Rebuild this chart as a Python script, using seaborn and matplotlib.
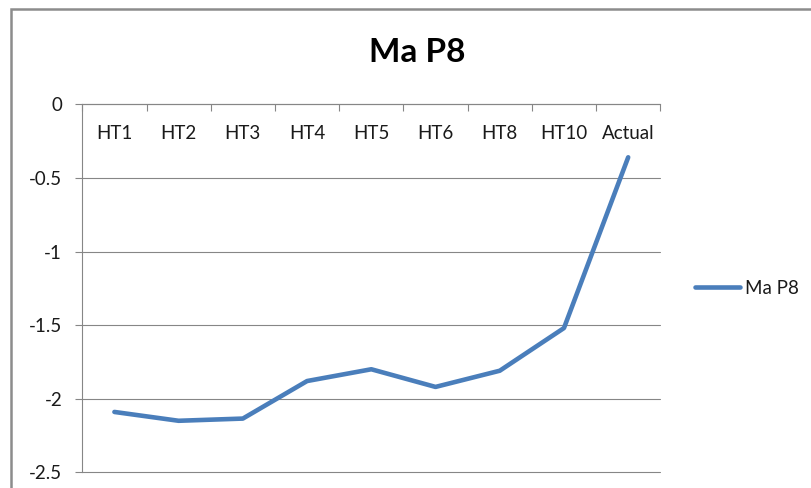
import matplotlib
matplotlib.use("Agg")
import matplotlib.pyplot as plt
import seaborn as sns
import pandas as pd
from matplotlib.patches import Rectangle
from matplotlib.ticker import FixedLocator

categories = ["HT1", "HT2", "HT3", "HT4", "HT5", "HT6", "HT8", "HT10", "Actual"]
values = [-2.09, -2.15, -2.135, -1.88, -1.80, -1.92, -1.81, -1.52, -0.36]
series_name = "Ma P8"
y_ticks = [0, -0.5, -1, -1.5, -2, -2.5]
y_tick_labels = ["0", "-0.5", "-1", "-1.5", "-2", "-2.5"]

sns.set_theme(style="white")
plt.rcParams["font.family"] = ["Lato", "DejaVu Sans"]
plt.rcParams["axes.unicode_minus"] = False

df = pd.DataFrame({"cat": categories, "val": values})

W, H = 812, 488
fig = plt.figure(figsize=(W / 100, H / 100), dpi=100)
ax = fig.add_axes([82.3 / W, 1 - 472.3 / H, (660.3 - 82.3) / W, (472.3 - 104.3) / H])

grid_c = "#868686"
line_c = "#4A7EBB"
text_c = "#1a1a1a"

sns.lineplot(data=df, x="cat", y="val", ax=ax, sort=False, color=line_c,
             linewidth=3.3, label=series_name, legend=False)

ax.set_xlim(-0.5, len(categories) - 0.5)
ax.set_ylim(-2.5, 0)
ax.set_xlabel("")
ax.set_ylabel("")

# y axis
ax.set_yticks(y_ticks)
ax.set_yticklabels(y_tick_labels)
ax.tick_params(axis="y", direction="out", length=5, width=0.8, color=grid_c,
               pad=9.5, labelsize=13.5, labelcolor=text_c, left=True)
ax.yaxis.grid(True, color=grid_c, linewidth=0.8)
ax.xaxis.grid(False)
for gl in ax.yaxis.get_gridlines():
    gl.set_clip_on(False)

# x axis at top (value 0)
ax.xaxis.tick_top()
ax.set_xticks(range(len(categories)))
ax.set_xticklabels(categories)
ax.xaxis.set_minor_locator(FixedLocator([i - 0.5 for i in range(len(categories) + 1)]))
ax.tick_params(axis="x", which="major", length=0, pad=-27.5, labelsize=13.5,
               labelcolor=text_c, top=True, bottom=False)
ax.tick_params(axis="x", which="minor", direction="in", length=5, width=0.8,
               color=grid_c, top=True, bottom=False)

for s in ["right", "bottom"]:
    ax.spines[s].set_visible(False)
for s in ["left", "top"]:
    ax.spines[s].set_color(grid_c)
    ax.spines[s].set_linewidth(0.8)

# legend
h, l = ax.get_legend_handles_labels()
fig.legend(h, l, loc="center left", bbox_to_anchor=(695 / W, 1 - 288 / H),
           frameon=False, fontsize=13.5, handlelength=2.4, handletextpad=0.25,
           borderpad=0, borderaxespad=0, labelcolor=text_c)

# title
fig.text(417.5 / W, 1 - 52.5 / H, "Ma P8", ha="center", va="center",
         fontsize=24, fontweight="bold", color="black")

# outer chart border
fig.patches.append(Rectangle((11 / W, -0.1), 1.2, 1 - 9 / H + 0.1,
                             transform=fig.transFigure, fill=False,
                             edgecolor="#8c8c8c", linewidth=1.8))

fig.savefig("out.png", dpi=100)
